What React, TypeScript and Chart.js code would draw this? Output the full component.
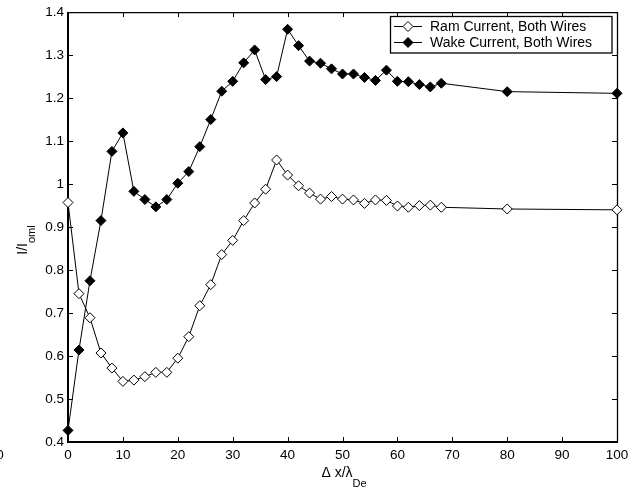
import React, { useEffect, useRef } from "react";
import { Chart, registerables } from "chart.js";

Chart.register(...registerables);

const xPositions = [
  0, 2, 4, 6, 8, 10, 12, 14, 16, 18, 20, 22, 24, 26, 28, 30, 32, 34, 36, 38,
  40, 42, 44, 46, 48, 50, 52, 54, 56, 58, 60, 62, 64, 66, 68, 80, 100,
];
const ramCurrent = [
  0.957, 0.745, 0.689, 0.607, 0.572, 0.541, 0.544, 0.552, 0.562, 0.562, 0.595,
  0.645, 0.717, 0.766, 0.836, 0.869, 0.915, 0.956, 0.988, 1.056, 1.021, 0.996,
  0.979, 0.965, 0.971, 0.965, 0.963, 0.955, 0.963, 0.962, 0.949, 0.946, 0.95,
  0.951, 0.946, 0.942, 0.94,
];
const wakeCurrent = [
  0.427, 0.614, 0.775, 0.915, 1.076, 1.119, 0.983, 0.964, 0.947, 0.964, 1.002,
  1.029, 1.087, 1.15, 1.216, 1.239, 1.282, 1.312, 1.243, 1.25, 1.36, 1.322,
  1.286, 1.281, 1.268, 1.256, 1.256, 1.248, 1.241, 1.265, 1.239, 1.238, 1.2315,
  1.226, 1.2345, 1.215, 1.211,
];
const xTicks = [0, 10, 20, 30, 40, 50, 60, 70, 80, 90, 100];
const yTicks = [0.4, 0.5, 0.6, 0.7, 0.8, 0.9, 1.0, 1.1, 1.2, 1.3, 1.4];
const seriesLabels = ["Ram Current, Both Wires", "Wake Current, Both Wires"];

const FONT = "'Liberation Sans', Arial, Helvetica, sans-serif";

const framePlugin = {
  id: "frame",
  beforeDatasetsDraw(chart: any) {
    const { ctx, chartArea: a, scales } = chart;
    ctx.save();
    ctx.strokeStyle = "#000";
    ctx.lineWidth = 1;
    ctx.beginPath();
    xTicks.forEach((v) => {
      const px = Math.round(scales.x.getPixelForValue(v)) + 0.5;
      ctx.moveTo(px, a.top);
      ctx.lineTo(px, a.top + 5);
      ctx.moveTo(px, a.bottom);
      ctx.lineTo(px, a.bottom - 5);
    });
    yTicks.forEach((v) => {
      const py = Math.round(scales.y.getPixelForValue(v)) + 0.5;
      ctx.moveTo(a.left, py);
      ctx.lineTo(a.left + 5, py);
      ctx.moveTo(a.right, py);
      ctx.lineTo(a.right - 5, py);
    });
    ctx.stroke();
    ctx.lineWidth = 1.3;
    ctx.beginPath();
    ctx.moveTo(a.left, a.top + 0.5);
    ctx.lineTo(a.right + 0.5, a.top + 0.5);
    ctx.lineTo(a.right + 0.5, a.bottom);
    ctx.stroke();
    ctx.lineWidth = 2;
    ctx.beginPath();
    ctx.moveTo(a.left, a.top);
    ctx.lineTo(a.left, a.bottom);
    ctx.lineTo(a.right + 1, a.bottom);
    ctx.stroke();
    ctx.restore();
  },
  afterDatasetsDraw(chart: any) {
    const { ctx, chartArea: a } = chart;
    ctx.save();
    // legend box
    const bx = 390.5;
    const by = 16.5;
    const bw = a.right - 5 - bx;
    const bh = 36.5;
    ctx.fillStyle = "#fff";
    ctx.fillRect(bx, by, bw, bh);
    ctx.strokeStyle = "#000";
    ctx.lineWidth = 1.3;
    ctx.strokeRect(bx, by, bw, bh);
    const rows = [26.5, 42.5];
    rows.forEach((ry, i) => {
      ctx.lineWidth = 1;
      ctx.beginPath();
      ctx.moveTo(394, ry);
      ctx.lineTo(422, ry);
      ctx.stroke();
      const cx = 408;
      const r = 5;
      ctx.beginPath();
      ctx.moveTo(cx, ry - r);
      ctx.lineTo(cx + r, ry);
      ctx.lineTo(cx, ry + r);
      ctx.lineTo(cx - r, ry);
      ctx.closePath();
      ctx.fillStyle = i === 0 ? "#fff" : "#000";
      ctx.fill();
      ctx.stroke();
      ctx.fillStyle = "#000";
      ctx.font = `14px ${FONT}`;
      ctx.textAlign = "left";
      ctx.textBaseline = "middle";
      ctx.fillText(seriesLabels[i], 430, ry + 0.5);
    });
    ctx.restore();
  },
  afterDraw(chart: any) {
    const { ctx } = chart;
    ctx.save();
    ctx.fillStyle = "#000";
    ctx.textBaseline = "alphabetic";
    // x axis title
    ctx.font = `14px ${FONT}`;
    ctx.textAlign = "left";
    const main = "\u0394 x/\u03bb";
    const mw = ctx.measureText(main).width;
    ctx.font = `11px ${FONT}`;
    const sw = ctx.measureText("De").width;
    const startX = 344 - (mw + sw) / 2;
    ctx.font = `14px ${FONT}`;
    ctx.fillText(main, startX, 477);
    ctx.font = `11px ${FONT}`;
    ctx.fillText("De", startX + mw, 487);
    // y axis title
    ctx.translate(27, 240);
    ctx.rotate(-Math.PI / 2);
    ctx.font = `14px ${FONT}`;
    const ym = "I/I";
    const ymw = ctx.measureText(ym).width;
    ctx.font = `11px ${FONT}`;
    const ysw = ctx.measureText("oml").width;
    const sx = -(ymw + ysw) / 2;
    ctx.font = `14px ${FONT}`;
    ctx.fillText(ym, sx, 0);
    ctx.font = `11px ${FONT}`;
    ctx.fillText("oml", sx + ymw, 8);
    ctx.restore();
    // stray clipped label at far left
    ctx.save();
    ctx.fillStyle = "#000";
    ctx.font = `13.5px ${FONT}`;
    ctx.textAlign = "center";
    ctx.textBaseline = "middle";
    ctx.fillText("0", 0, 455.5);
    ctx.restore();
  },
};

export default function App() {
  const ref = useRef<HTMLCanvasElement | null>(null);
  useEffect(() => {
    if (!ref.current) return;
    const chart = new Chart(ref.current, {
      type: "line",
      data: {
        datasets: [
          {
            label: seriesLabels[0],
            data: xPositions.map((x, i) => ({ x, y: ramCurrent[i] })),
            borderColor: "#000",
            borderWidth: 1,
            backgroundColor: "#fff",
            pointStyle: "rectRot",
            pointRadius: 5,
            pointBorderWidth: 1,
            pointBackgroundColor: "#fff",
            pointBorderColor: "#000",
            tension: 0,
            clip: false,
          } as any,
          {
            label: seriesLabels[1],
            data: xPositions.map((x, i) => ({ x, y: wakeCurrent[i] })),
            borderColor: "#000",
            borderWidth: 1,
            backgroundColor: "#000",
            pointStyle: "rectRot",
            pointRadius: 5,
            pointBorderWidth: 1,
            pointBackgroundColor: "#000",
            pointBorderColor: "#000",
            tension: 0,
            clip: false,
          } as any,
        ],
      },
      options: {
        animation: false,
        responsive: false,
        layout: { padding: { top: 10, right: 23, left: 0, bottom: 0 } },
        plugins: {
          legend: { display: false },
          tooltip: { enabled: false },
        },
        scales: {
          x: {
            type: "linear",
            min: 0,
            max: 100,
            afterFit: (s: any) => {
              s.height = 49;
            },
            afterBuildTicks: (s: any) => {
              s.ticks = xTicks.map((v) => ({ value: v }));
            },
            grid: { display: false, drawTicks: false },
            border: { display: false },
            ticks: {
              color: "#000",
              font: { family: FONT, size: 13.5 },
              padding: 5,
              maxRotation: 0,
              callback: (v: any) => String(v),
            },
          },
          y: {
            type: "linear",
            min: 0.4,
            max: 1.4,
            afterFit: (s: any) => {
              s.width = 68;
            },
            afterBuildTicks: (s: any) => {
              s.ticks = yTicks.map((v) => ({ value: v }));
            },
            grid: { display: false, drawTicks: false },
            border: { display: false },
            ticks: {
              color: "#000",
              font: { family: FONT, size: 13.5 },
              padding: 4,
              callback: (v: any) => String(+Number(v).toFixed(1)),
            },
          },
        },
      },
      plugins: [framePlugin],
    });
    return () => chart.destroy();
  }, []);
  return (
    <div style={{ position: "absolute", left: 0, top: 0, width: 640, height: 491, background: "#fff" }}>
      <canvas ref={ref} width={640} height={491} style={{ display: "block" }} />
    </div>
  );
}
